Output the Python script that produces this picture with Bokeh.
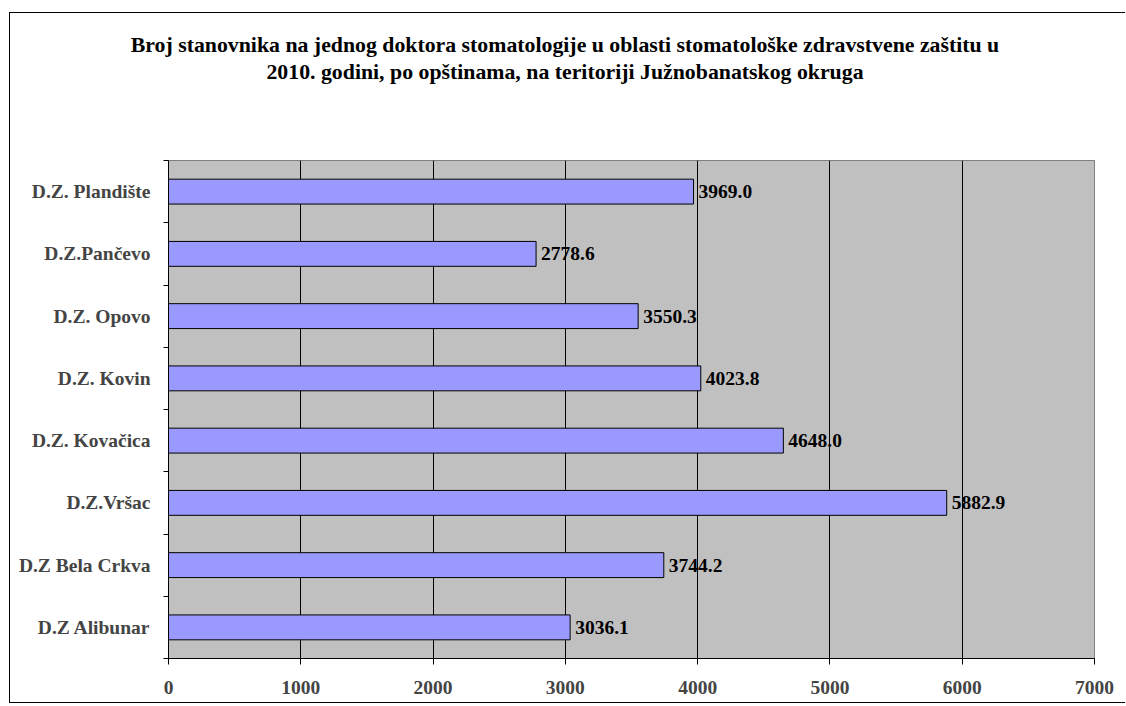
from bokeh.plotting import figure
from bokeh.models import (ColumnDataSource, Range1d, FixedTicker,
                          SingleIntervalTicker, Label)
from bokeh.core.properties import value
from bokeh.embed import file_html
from bokeh.resources import INLINE

# Data (bottom to top)
categories = ["D.Z Alibunar", "D.Z Bela Crkva", "D.Z.Vršac", "D.Z. Kovačica",
              "D.Z. Kovin", "D.Z. Opovo", "D.Z.Pančevo", "D.Z. Plandište"]
values = [3036.1, 3744.2, 5882.9, 4648.0, 4023.8, 3550.3, 2778.6, 3969.0]
labels = ["{:.1f}".format(v) for v in values]
title_lines = ["Broj stanovnika na jednog doktora stomatologije u oblasti stomatološke zdravstvene zaštitu u",
               "2010. godini, po opštinama, na teritoriji Južnobanatskog okruga"]

FONT = "Liberation Serif"
FS = "19.5px"
TFS = "21.8px"

n = len(categories)
centers = [i + 0.5 for i in range(n)]
bounds = list(range(n + 1))

source = ColumnDataSource(dict(cat=categories, pos=centers, val=values, lab=labels))

p = figure(width=1116, height=691, output_backend="svg", toolbar_location=None,
           y_range=Range1d(0, n), x_range=Range1d(0, 7000),
           min_border_left=158, min_border_right=32, min_border_top=147,
           min_border_bottom=46)
p.margin = (12, 0, 0, 9)
p.styles = {"border-left": "1px solid black", "border-top": "1px solid black",
            "border-bottom": "1px solid black"}
p.title.text = ""

# title as two centred lines in the panel above the plot area
for txt, yb in zip(title_lines, [115.8, 64.1]):
    p.add_layout(Label(x=396.5, y=yb, x_units="screen", y_units="screen",
                       text=txt, text_align="center", text_baseline="alphabetic",
                       text_font=FONT, text_font_style="bold",
                       text_font_size=TFS, text_color="black"), "above")

p.background_fill_color = "#c0c0c0"
p.border_fill_color = "white"
p.outline_line_color = "#808080"
p.outline_line_width = 1

p.hbar(y="pos", right="val", left=0, height=0.4, source=source,
       fill_color="#9999ff", line_color="black", line_width=1)

p.text(x="val", y="pos", text="lab", source=source, x_offset=5,
       text_baseline="middle", text_align="left",
       text_font=value(FONT), text_font_style="bold", text_font_size=FS,
       text_color="black")

# x axis
xa = p.xaxis[0]
xa.ticker = SingleIntervalTicker(interval=1000)
xa.major_label_text_font = FONT
xa.major_label_text_font_style = "bold"
xa.major_label_text_font_size = FS
xa.major_tick_out = 6
xa.major_tick_in = 0
xa.minor_tick_line_color = None
xa.axis_line_color = "black"
xa.major_tick_line_color = "black"
xa.major_label_standoff = 16

p.xgrid.grid_line_color = "black"
p.xgrid.grid_line_width = 1
p.xgrid.ticker = SingleIntervalTicker(interval=1000)
p.ygrid.grid_line_color = None

# y axis: labels at centres, ticks at category boundaries
ya = p.yaxis[0]
ya.ticker = FixedTicker(ticks=centers, minor_ticks=bounds)
ya.major_label_overrides = {c: name for c, name in zip(centers, categories)}
ya.major_label_text_font = FONT
ya.major_label_text_font_style = "bold"
ya.major_label_text_font_size = FS
ya.major_tick_out = 0
ya.major_tick_in = 0
ya.major_tick_line_color = None
ya.minor_tick_out = 5
ya.minor_tick_in = 0
ya.minor_tick_line_color = "black"
ya.axis_line_color = "black"
ya.major_label_standoff = 13

open("out.html", "w").write(file_html(p, INLINE))
